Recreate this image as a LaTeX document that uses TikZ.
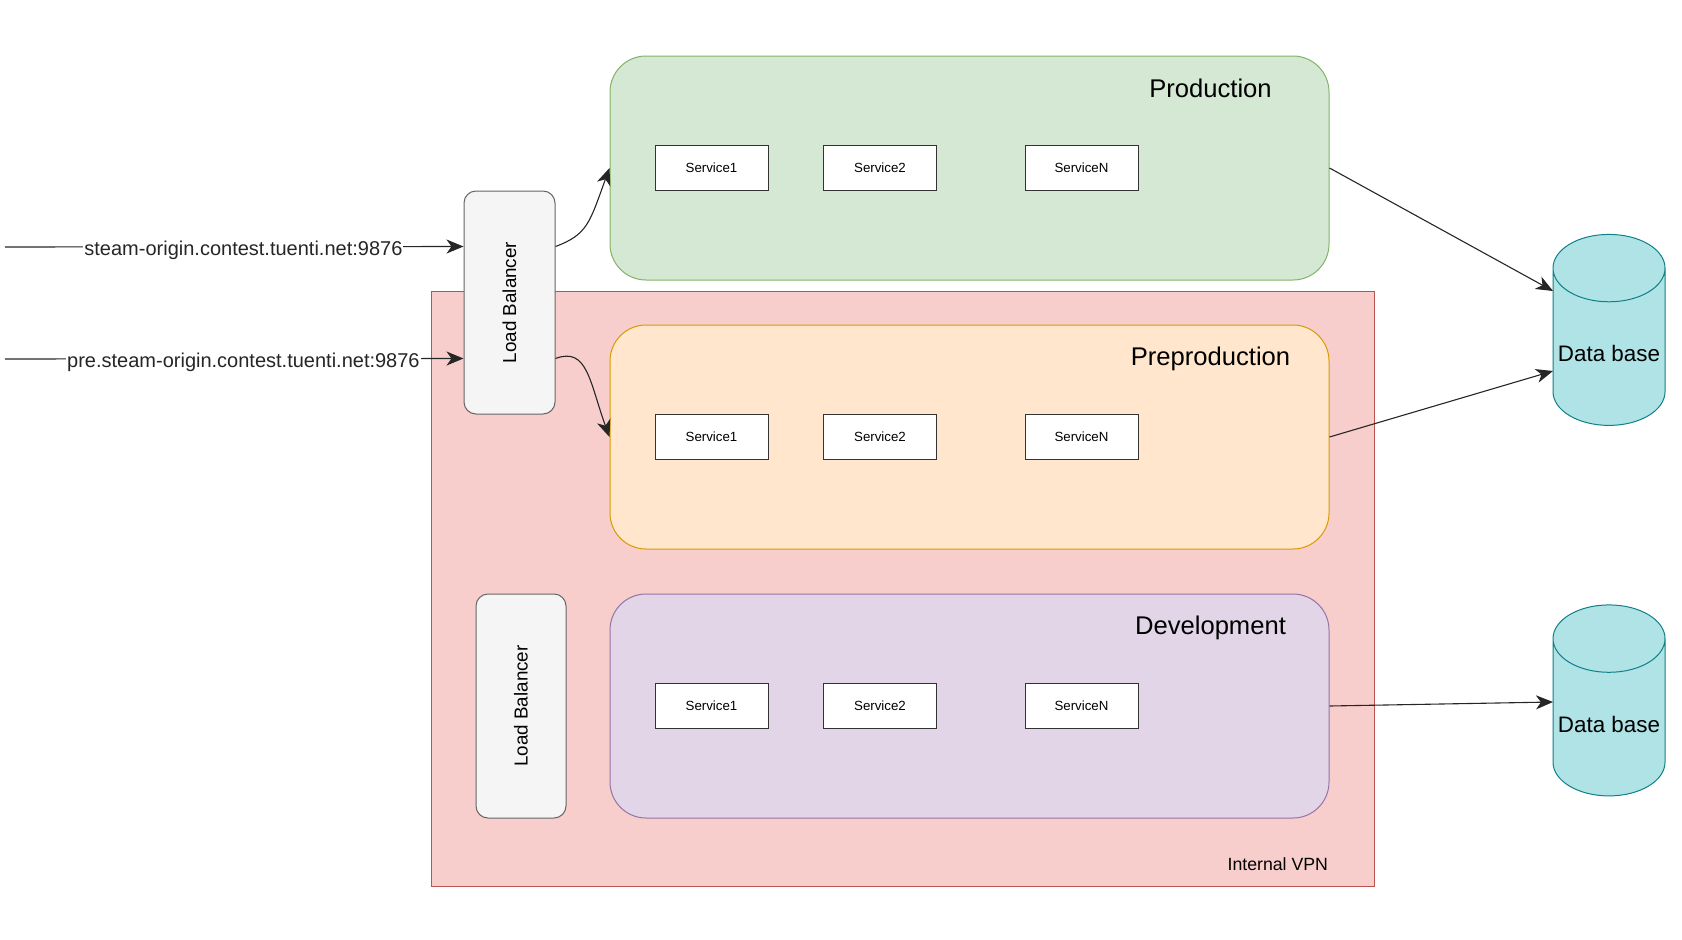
\documentclass[tikz,border=0pt]{standalone}
\usepackage{fontspec}
\setmainfont{Liberation Sans}
\usetikzlibrary{shapes.geometric, arrows.meta, calc}
\definecolor{prodfill}{HTML}{D5E8D4}
\definecolor{prodline}{HTML}{82B366}
\definecolor{prefill}{HTML}{FFE6CC}
\definecolor{preline}{HTML}{D79B00}
\definecolor{devfill}{HTML}{E1D5E7}
\definecolor{devline}{HTML}{9673A6}
\definecolor{vpnfill}{HTML}{F8CECC}
\definecolor{vpnline}{HTML}{B85450}
\definecolor{lbfill}{HTML}{F5F5F5}
\definecolor{lbline}{HTML}{666666}
\definecolor{dbfill}{HTML}{B0E3E6}
\definecolor{dbline}{HTML}{0E8088}
\tikzset{
	env/.style={
		draw,
		rectangle,
		rounded corners=36pt,
		inner sep=0pt,
		line width=1pt,
		minimum width=719pt,
		minimum height=224pt
	},
	service/.style={
		draw=black!80,
		fill=white,
		inner sep=0pt,
		line width=1pt,
		minimum width=113pt,
		minimum height=45pt,
		font=\fontsize{13.3}{16}\selectfont
	},
	balancer/.style={
		draw=lbline,
		fill=lbfill,
		rounded corners=12pt,
		inner sep=0pt,
		line width=1pt,
		minimum width=91pt,
		minimum height=223pt,
		label={[rotate=90,font=\fontsize{18.8}{22}\selectfont]center:Load Balancer}
	},
	database/.style={
		draw=dbline,
		fill=dbfill,
		cylinder,
		shape border rotate=90,
		aspect=0.66,
		inner sep=0pt,
		line width=1pt,
		minimum width=112pt,
		minimum height=191pt,
		text height=29pt,
		text depth=0pt,
		font=\fontsize{22.4}{26}\selectfont
	}
}

\begin{document}
\begin{tikzpicture}[x=1pt, y=-1pt]
	\tikzset{edge/.style={-{Stealth[length=17pt, width=14pt, inset=5pt]}, line width=1.1pt, black!85}}
	\tikzset{title/.style={font=\fontsize{25.6}{30}\selectfont}}
	\tikzset{url/.style={fill=white, inner sep=1pt, yshift=-3.5pt, font=\fontsize{20}{24}\selectfont}}
	
	\useasboundingbox (0,0) rectangle (1682,940);
	
	\node(vpn) at (902.5,588.5) [draw=vpnline, fill=vpnfill, line width=1pt, inner sep=0pt, minimum width=943pt, minimum height=595pt] {};
	\node(vpn_label) [anchor=east, font=\fontsize{17.7}{21}\selectfont] at ($(vpn.south east)+(-43,-22)$) {Internal VPN};
	
	\node(prod) at (969.5,168) [env, draw=prodline, fill=prodfill] {};
	\node(preprod) at (969.5,437) [env, draw=preline, fill=prefill] {};
	\node(dev) at (969.5,706) [env, draw=devline, fill=devfill] {};
	
	\node(prod_title) at ($(prod.north east)+(-119,33)$) [title] {Production};
	\node(preprod_title) at ($(preprod.north east)+(-119,34)$) [title] {Preproduction};
	\node(dev_title) at ($(dev.north east)+(-119,34)$) [title] {Development};
	
	\node(prod_s1) at (711.5,168) [service] {Service1};
	\node(prod_s2) at (880,168) [service] {Service2};
	\node(prod_sN) at (1081.5,168) [service] {ServiceN};
	
	\node(preprod_s1) at (711.5,437) [service] {Service1};
	\node(preprod_s2) at (880,437) [service] {Service2};
	\node(preprod_sN) at (1081.5,437) [service] {ServiceN};
	
	\node(dev_s1) at (711.5,706) [service] {Service1};
	\node(dev_s2) at (880,706) [service] {Service2};
	\node(dev_sN) at (1081.5,706) [service] {ServiceN};
	
	\node(lb_pub) at (509.5,302.5) [balancer] {};
	\node(lb_dev) at (521,706) [balancer, minimum width=90pt, minimum height=224pt] {};
	
	\node(db_main) at (1609,347) [database] {Data base};
	\node(db_dev) at (1609,717.5) [database] {Data base};
	
	\coordinate(in_prod) at (5,247);
	\coordinate(in_pre) at (5,359);
	
	\draw[edge] (in_prod) -- node[url, pos=0.52] {steam-origin.contest.tuenti.net:9876} ($(lb_pub.north west)!0.25!(lb_pub.south west)$);
	\draw[edge] (in_pre) -- node[url, pos=0.52] {pre.steam-origin.contest.tuenti.net:9876} ($(lb_pub.north west)!0.75!(lb_pub.south west)$);
	
	\draw[edge] ($(lb_pub.north east)!0.25!(lb_pub.south east)$) .. controls +(32,-12) and +(-20,55) .. (prod.west);
	\draw[edge] ($(lb_pub.north east)!0.75!(lb_pub.south east)$) .. controls +(32,-12) and +(-20,-55) .. (preprod.west);
	
	\draw[edge] (prod.east) -- ($(db_main.center)+(-56,-56)$);
	\draw[edge] (preprod.east) -- ($(db_main.center)+(-56,24)$);
	\draw[edge] (dev.east) -- ($(db_dev.center)+(-56,-15.5)$);
	
\end{tikzpicture}
\end{document}
